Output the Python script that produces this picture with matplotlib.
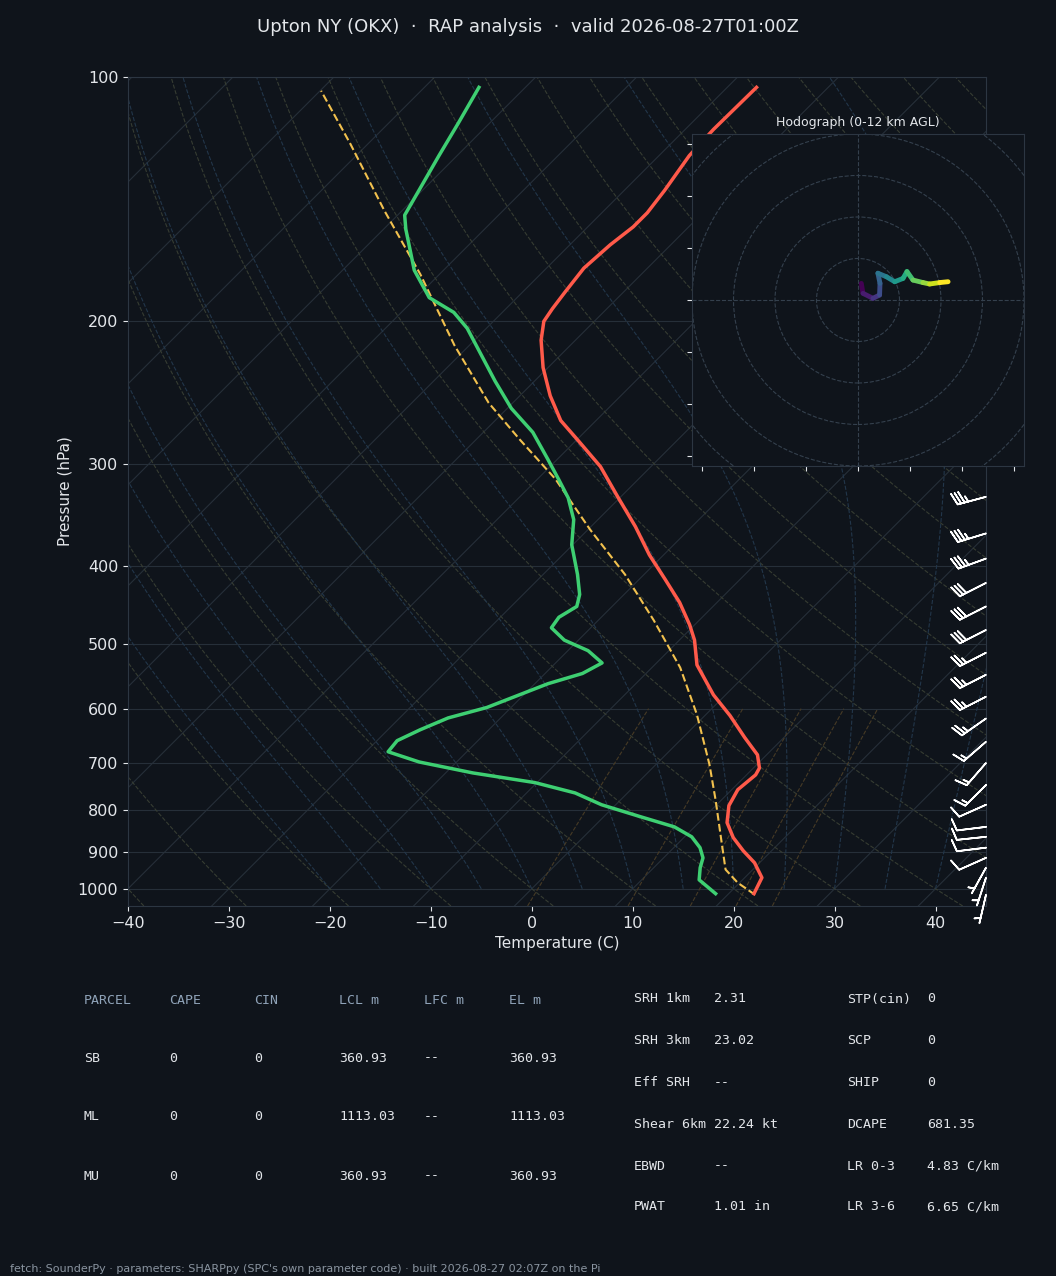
import matplotlib.pyplot as plt
import matplotlib.transforms as mtransforms
import numpy as np

# --- Sounding data ---
p_t = [1014, 969, 929, 898, 865, 829, 790, 755, 724, 710, 684, 651, 612, 577, 530, 494, 473, 444,
       416, 388, 358, 329, 302, 280, 265, 247, 228, 211, 200, 193, 184, 172, 161, 153, 147, 138, 125, 116, 103]
temp = [22.5, 21.7, 19.5, 17.2, 14.9, 12.8, 11.3, 10.6, 10.9, 10.6, 9.1, 6.1, 2.5, -1.2, -5.8, -8.5, -10.5,
        -13.7, -17.4, -21.4, -25.6, -30.3, -35.0, -39.9, -43.5, -47.0, -50.5, -53.4, -55.0, -55.4, -55.8,
        -56.3, -56.0, -55.5, -55.5, -56.0, -57.0, -57.2, -57.1]
p_td = [1014, 975, 942, 916, 890, 863, 839, 815, 788, 762, 740, 720, 698, 678, 657, 637, 616, 598, 559,
        543, 527, 509, 494, 477, 463, 449, 434, 410, 377, 351, 330, 313, 296, 274, 256, 237, 204, 195, 187,
        173, 154, 148, 125, 114, 103]
dewp = [18.7, 15.7, 14.6, 13.9, 12.6, 10.7, 8.0, 3.6, -1.4, -5.2, -10.2, -17.3, -23.7, -27.8, -28.0, -26.8,
        -25.2, -22.4, -18.7, -16.3, -15.4, -18.0, -21.4, -23.9, -24.2, -23.5, -24.4, -26.6, -30.1, -32.4,
        -35.1, -37.9, -40.9, -45.1, -49.6, -53.9, -61.9, -64.8, -68.7, -72.9, -77.8, -79.3, -81.8, -83.1, -84.6]
p_parcel = [1017, 983, 947, 883, 777, 703, 610, 534, 467, 410, 361, 313, 280, 252, 214, 175, 146, 121, 104]
t_parcel = [22.7, 19.8, 17.3, 14.5, 9.4, 5.3, -0.9, -7.2, -14.5, -21.9, -29.8, -38.2, -45.6, -52.4, -61.5,
            -71.9, -81.8, -91.7, -99.9]

barb_p = [329, 365, 392, 420, 449, 480, 512, 545, 580, 617, 659, 700, 745, 788, 839, 863, 890, 916, 942, 969, 1017]
barb_spd = [35, 35, 35, 30, 30, 30, 25, 25, 25, 25, 15, 15, 15, 10, 10, 10, 10, 10, 5, 5, 5]
barb_dir = [255, 253, 250, 243, 243, 243, 243, 243, 243, 235, 229, 221, 225, 246, 263, 264, 263, 246, 209, 198, 193]

hodo_u = [1.6, 2.4, 7.2, 10.4, 10.6, 9.6, 13.7, 17.7, 21.7, 23.6, 26.5, 31.3, 34.5, 39.4, 43.4]
hodo_v = [8.0, 3.2, 0.8, 2.4, 8.0, 12.9, 11.2, 8.8, 10.4, 13.7, 9.6, 8.4, 7.7, 8.4, 8.8]

parcel_rows = [["SB", "0", "0", "360.93", "--", "360.93"],
               ["ML", "0", "0", "1113.03", "--", "1113.03"],
               ["MU", "0", "0", "360.93", "--", "360.93"]]
params_left = [("SRH 1km", "2.31"), ("SRH 3km", "23.02"), ("Eff SRH", "--"),
               ("Shear 6km", "22.24 kt"), ("EBWD", "--"), ("PWAT", "1.01 in")]
params_right = [("STP(cin)", "0"), ("SCP", "0"), ("SHIP", "0"),
                ("DCAPE", "681.35"), ("LR 0-3", "4.83 C/km"), ("LR 3-6", "6.65 C/km")]

BG = '#0f141b'
FG = '#e3e6ea'
SPINE = '#2c3642'
K = 80.4  # skew factor


def skew(t, p):
    return np.asarray(t) + K * np.log10(1000.0 / np.asarray(p))


fig = plt.figure(figsize=(10.56, 12.76), dpi=100, facecolor=BG)
ax = fig.add_axes([0.1212, 0.29, 0.8125, 0.6497])
ax.set_facecolor(BG)
ax.set_yscale('log')
ax.set_ylim(1050, 100)
ax.set_xlim(-40, 45)

pp = np.logspace(np.log10(1050), 2, 120)
# isobars / isotherms
for p0 in range(100, 1001, 100):
    ax.axhline(p0, color='#262f39', lw=0.8, zorder=1)
for t0 in range(-160, 60, 10):
    ax.plot(skew(np.full_like(pp, t0), pp), pp, color='#262f39', lw=0.8, zorder=1)
# dry adiabats
for th in range(-40, 200, 10):
    tt = (th + 273.15) * (pp / 1000.0) ** 0.2857 - 273.15
    ax.plot(skew(tt, pp), pp, color='#363c32', lw=0.8, ls='--', zorder=1)
# moist adiabats
def es(t):
    return 6.112 * np.exp(17.67 * t / (t + 243.5))
for t0 in range(-20, 45, 5):
    ps = np.logspace(3, 2, 200)
    tt = [float(t0)]
    for i in range(1, len(ps)):
        t = tt[-1]
        tk = t + 273.15
        rs = 0.622 * es(t) / (ps[i - 1] - es(t))
        gam = (0.2857 * tk + 2.5e6 * rs / 1004.0) / (1 + 2.5e6 ** 2 * rs * 0.622 / (1004.0 * 287.0 * tk ** 2))
        tt.append(t + gam * (ps[i] - ps[i - 1]) / ps[i - 1])
    ax.plot(skew(tt, ps), ps, color='#22364a', lw=0.8, ls='--', zorder=1)
# mixing ratio lines
pm = np.linspace(1050, 600, 40)
for w in [4, 8, 12, 16, 20]:
    e = w / 1000.0 * pm / (0.622 + w / 1000.0)
    td = 243.5 * np.log(e / 6.112) / (17.67 - np.log(e / 6.112))
    ax.plot(skew(td, pm), pm, color='#463a25', lw=0.8, ls='--', zorder=1)

ax.plot(skew(t_parcel, p_parcel), p_parcel, color='#f2c14e', lw=1.5, ls='--', zorder=3)
ax.plot(skew(temp, p_t), p_t, color='#ff5a4a', lw=2.5, zorder=4)
ax.plot(skew(dewp, p_td), p_td, color='#3ecf72', lw=2.5, zorder=4)

d = np.deg2rad(barb_dir)
bu = -np.array(barb_spd) * np.sin(d)
bv = -np.array(barb_spd) * np.cos(d)
trans = mtransforms.blended_transform_factory(ax.transAxes, ax.transData)
ax.barbs(np.ones(len(barb_p)), barb_p, bu, bv, transform=trans, color='white',
         length=6.5, linewidth=1.2, clip_on=False, zorder=5)

ax.set_yticks(range(100, 1001, 100))
ax.set_yticklabels([str(v) for v in range(100, 1001, 100)])
ax.yaxis.set_minor_locator(plt.NullLocator())
ax.set_xticks(range(-40, 41, 10))
ax.set_xticklabels([f'\u2212{-v}' if v < 0 else str(v) for v in range(-40, 41, 10)])
ax.tick_params(colors=FG, labelsize=11.5)
ax.set_xlabel('Temperature (C)', color=FG, fontsize=11)
ax.set_ylabel('Pressure (hPa)', color=FG, fontsize=11)
for s in ax.spines.values():
    s.set_color(SPINE)

fig.text(0.5, 0.979, 'Upton NY (OKX)  \u00b7  RAP analysis  \u00b7  valid 2026-08-27T01:00Z',
         ha='center', va='center', color=FG, fontsize=13)

# --- Hodograph ---
hax = fig.add_axes([0.6553, 0.6348, 0.3144, 0.2602])
hax.set_facecolor(BG)
hax.set_xlim(-80, 80)
hax.set_ylim(-80, 80)
for r in range(20, 121, 20):
    hax.add_patch(plt.Circle((0, 0), r, fill=False, ec='#34404d', ls='--', lw=0.8))
hax.axhline(0, color='#34404d', ls='--', lw=0.8)
hax.axvline(0, color='#34404d', ls='--', lw=0.8)
hu = np.array(hodo_u)
hv = np.array(hodo_v)
cmap = plt.get_cmap('viridis')
for i in range(len(hu) - 1):
    hax.plot(hu[i:i + 2], hv[i:i + 2], color=cmap(i / (len(hu) - 2)), lw=3.5, solid_capstyle='round')
hax.set_xticks(range(-75, 76, 25))
hax.set_yticks(range(-75, 76, 25))
hax.set_xticklabels([])
hax.set_yticklabels([])
hax.tick_params(colors=FG)
for s in hax.spines.values():
    s.set_color(SPINE)
hax.set_title('Hodograph (0-12 km AGL)', color=FG, fontsize=9)

# --- Parameter table ---
mono = 'DejaVu Sans Mono'
H = 1276.0
cols = [84, 169, 254, 339, 424, 509]
heads = ['PARCEL', 'CAPE', 'CIN', 'LCL m', 'LFC m', 'EL m']
for x, h in zip(cols, heads):
    fig.text(x / 1056, 1 - 1000 / H, h, color='#8fa3b8', family=mono, fontsize=9.5, va='center')
for row, y in zip(parcel_rows, [1058, 1117, 1176]):
    for x, v in zip(cols, row):
        fig.text(x / 1056, 1 - y / H, v, color=FG, family=mono, fontsize=9.5, va='center')
for i, y in enumerate([999, 1041, 1083, 1124, 1166, 1207]):
    fig.text(634 / 1056, 1 - y / H, params_left[i][0], color=FG, family=mono, fontsize=9.5, va='center')
    fig.text(714 / 1056, 1 - y / H, params_left[i][1], color=FG, family=mono, fontsize=9.5, va='center')
    fig.text(847 / 1056, 1 - y / H, params_right[i][0], color=FG, family=mono, fontsize=9.5, va='center')
    fig.text(927 / 1056, 1 - y / H, params_right[i][1], color=FG, family=mono, fontsize=9.5, va='center')

fig.text(10 / 1056, 1 - 1269 / H,
         "fetch: SounderPy \u00b7 parameters: SHARPpy (SPC's own parameter code) \u00b7 built 2026-08-27 02:07Z on the Pi",
         color='#8a94a0', fontsize=8, va='center')

fig.savefig('out.png', dpi=100, facecolor=BG)
